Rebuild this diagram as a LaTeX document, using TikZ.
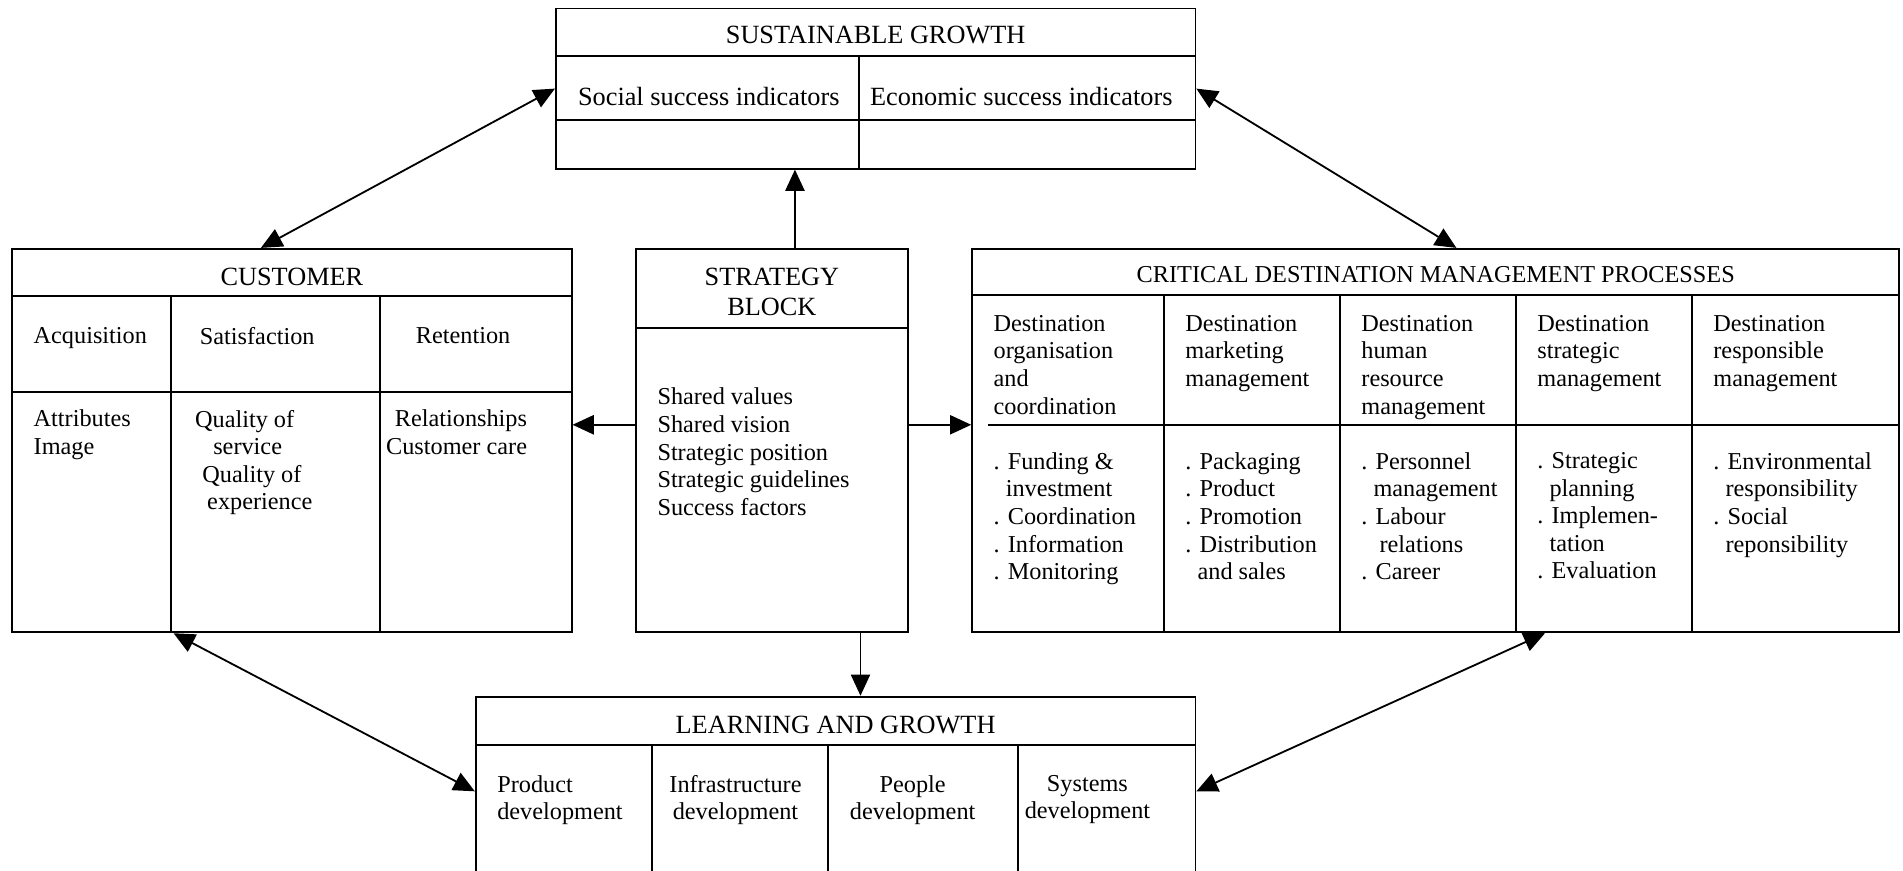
\documentclass[tikz,border=0pt]{standalone}
\usepackage{fontspec}
\setmainfont{Liberation Serif}
\usetikzlibrary{arrows.meta,fit}

\tikzset{
  box/.style={draw, inner sep=0pt},
  head/.style={inner sep=0pt, font=\fontsize{13}{15}\selectfont, align=center},
  headsmall/.style={inner sep=0pt, font=\fontsize{12}{13.65}\selectfont},
  txt/.style={inner sep=0pt, font=\fontsize{12}{13.65}\selectfont, align=left, anchor=north west},
  txtc/.style={inner sep=0pt, font=\fontsize{12}{13.65}\selectfont, align=center, anchor=north},
  bigtxt/.style={inner sep=0pt, font=\fontsize{13}{15}\selectfont, anchor=mid},
  tip/.tip={Triangle[length=10.5pt,width=9.5pt]},
  arr/.style={-tip},
  darr/.style={tip-tip}
}
\newcommand\ind{\hphantom{.\ }}

\begin{document}
\begin{tikzpicture}[x=0.6pt, y=-0.6pt, line width=0.9pt]
\path[use as bounding box, clip] (0,0) rectangle (1568,717);

% ---------- Sustainable growth ----------
\node[box, fit={(458,7) (985,139)}] (sg) {};
\draw (458,46) -- (985,46);
\draw (458,99) -- (985,99);
\draw (708,46) -- (708,139);
\node[head] (sgh) at (721.5,29) {SUSTAINABLE GROWTH};
\node[bigtxt] (sg1) at (584,83.5) {Social success indicators};
\node[bigtxt] (sg2) at (841.5,83.5) {Economic success indicators};

% ---------- Customer ----------
\node[box, fit={(10,205) (471,521)}] (cust) {};
\draw (10,244) -- (471,244);
\draw (10,323) -- (471,323);
\draw (141,244) -- (141,521);
\draw (313,244) -- (313,521);
\node[head] (cuh) at (240.5,228) {CUSTOMER};
\node[txt] (cu1) at (27,269) {Acquisition};
\node[txt] (cu2) at (164,269) {Satisfaction};
\node[txt] (cu3) at (342,269) {Retention};
\node[txt] (cu4) at (27,337) {Attributes\\Image};
\node[txt] (cu5) at (160,337) {Quality of\\\hspace*{9pt}service\\\hspace*{3.6pt}Quality of\\\hspace*{6pt}experience};
\node[txt, align=right, anchor=north east] (cu6) at (435,337) {Relationships\\Customer care};

% ---------- Strategy block ----------
\node[box, fit={(524,205) (748,521)}] (sb) {};
\draw (524,270) -- (748,270);
\node[head] (sbh) at (636,240.5) {STRATEGY\\BLOCK};
\node[txt] (sb1) at (541,319) {Shared values\\Shared vision\\Strategic position\\Strategic guidelines\\Success factors};

% ---------- Critical destination management processes ----------
\node[box, fit={(801,205) (1565,521)}] (cdmp) {};
\draw (801,243) -- (1565,243);
\draw (814,350) -- (1565,350);
\foreach \xx in {959,1104,1249,1394} \draw (\xx,243) -- (\xx,521);
\node[headsmall] (cdh) at (1183,226) {CRITICAL DESTINATION MANAGEMENT PROCESSES};
\node[txt] (cd1) at (818,259) {Destination\\organisation\\and\\coordination};
\node[txt] (cd2) at (976,259) {Destination\\marketing\\management};
\node[txt] (cd3) at (1121,259) {Destination\\human\\resource\\management};
\node[txt] (cd4) at (1266,259) {Destination\\strategic\\management};
\node[txt] (cd5) at (1411,259) {Destination\\responsible\\management};
\node[txt] (cd6) at (818,372) {. Funding \&\\\ind investment\\. Coordination\\. Information\\. Monitoring};
\node[txt] (cd7) at (976,372) {. Packaging\\. Product\\. Promotion\\. Distribution\\\ind and sales};
\node[txt] (cd8) at (1121,372) {. Personnel\\\ind management\\. Labour\\\ind\hspace*{3pt}relations\\. Career};
\node[txt] (cd9) at (1266,372) {. Strategic\\\ind planning\\. Implemen-\\\ind tation\\. Evaluation};
\node[txt] (cd10) at (1411,372) {. Environmental\\\ind responsibility\\. Social\\\ind reponsibility};

% ---------- Learning and growth ----------
\node[box, fit={(392,574) (985,760)}] (lg) {};
\draw (392,614) -- (985,614);
\foreach \xx in {537,682,839} \draw (\xx,614) -- (\xx,760);
\node[head] (lgh) at (688.5,597) {LEARNING AND GROWTH};
\node[txt] (lg1) at (409,638) {Product\\development};
\node[txtc] (lg2) at (606,638) {Infrastructure\\development};
\node[txtc] (lg3) at (752,638) {People\\development};
\node[txtc] (lg4) at (896,638) {Systems\\development};

% ---------- Connectors ----------
\coordinate (hrow) at (0,350);
\coordinate (vup) at (655,0);
\coordinate (vdn) at (709,0);
\coordinate (c1) at (215,0);
\coordinate (c2) at (1200,0);
\coordinate (c3) at (143,0);
\coordinate (c4) at (1273,0);
\coordinate (r3) at (0,652);

\draw[arr] (sb.west |- hrow) -- (cust.east |- hrow);
\draw[arr] (sb.east |- hrow) -- (cdmp.west |- hrow);
\draw[arr] (sb.north -| vup) -- (sg.south -| vup);
\draw[arr] (sb.south -| vdn) -- (lg.north -| vdn);
\draw[darr] (sg.west) -- (cust.north -| c1);
\draw[darr] (sg.east) -- (cdmp.north -| c2);
\draw[darr] (cust.south -| c3) -- (lg.west |- r3);
\draw[darr] (cdmp.south -| c4) -- (lg.east |- r3);
\end{tikzpicture}
\end{document}
